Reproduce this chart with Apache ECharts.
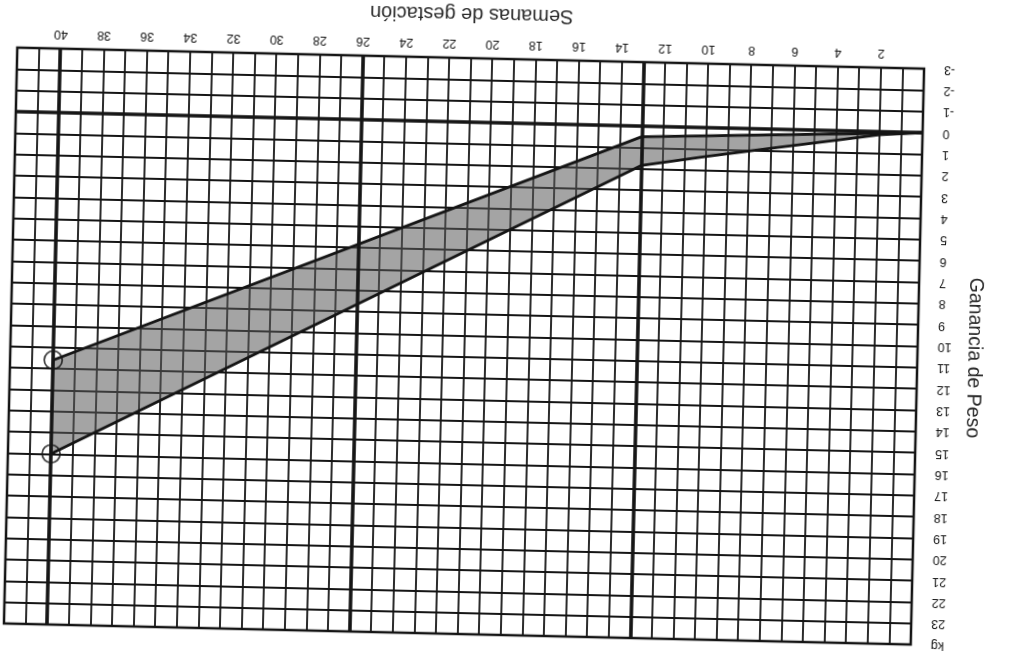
<!DOCTYPE html>
<html>
<head>
<meta charset="utf-8">
<script src="https://cdn.jsdelivr.net/npm/echarts@6/dist/echarts.min.js"></script>
<style>
  html, body { margin: 0; background: #fff; }
  /* the scan is upside down and a little tilted */
  #main { width: 1009px; height: 651px; transform: rotate(1.33deg); }
</style>
</head>
<body>
<div id="main"></div>
<script>
// lower limit of the band (weeks, kg)
const lowWeeks = [0, 13, 40]
const lowGain = [0, 0.5, 11.6]
// upper limit of the band
const highWeeks = [0, 2, 4, 7, 10, 13, 40]
const highGain = [0, 0.15, 0.45, 0.9, 1.35, 1.85, 16]
// thick reference lines
const majorWeeks = [13, 26, 40]
const majorGain = [0]
// tick labels
const weekLabels = [2, 4, 6, 8, 10, 12, 14, 16, 18, 20, 22, 24, 26, 28, 30, 32, 34, 36, 38, 40]
const gainLabels = [-3, -2, -1, 0, 1, 2, 3, 4, 5, 6, 7, 8, 9, 10, 11, 12, 13, 14, 15, 16, 17, 18, 19, 20, 21, 22, 23]
const unitLabel = 'kg'

const font = "'Liberation Sans', Arial, sans-serif"
const ink = '#151515'

function pairs(xs, ys) {
  return xs.map((x, i) => [x, ys[i]])
}

function setChartOption(myChart) {
  const lowPts = pairs(lowWeeks, lowGain)
  const highPts = pairs(highWeeks, highGain)
  const option = {
    backgroundColor: '#fff',
    animation: false,
    grid: {
      left: 11,
      right: 91,
      top: 51,
      bottom: 16,
      show: true,
      borderColor: ink,
      borderWidth: 2.5
    },
    xAxis: {
      type: 'value',
      position: 'top',
      inverse: true,
      min: 0,
      max: 42,
      interval: 1,
      name: 'Semanas de gestación',
      nameLocation: 'middle',
      nameGap: 34,
      nameRotate: 180,
      nameTextStyle: { fontFamily: font, fontSize: 20, color: '#2a2a2a' },
      axisLine: { show: false },
      axisTick: { show: false },
      axisLabel: {
        rotate: 180,
        margin: 8,
        fontFamily: font,
        fontSize: 12.5,
        color: ink,
        formatter: v => weekLabels.includes(v) ? String(v) : ''
      },
      splitLine: { lineStyle: { color: ink, width: 1.8 } }
    },
    yAxis: {
      type: 'value',
      position: 'right',
      inverse: true,
      min: -3,
      max: 24,
      interval: 1,
      name: 'Ganancia de Peso',
      nameLocation: 'middle',
      nameGap: 46,
      nameRotate: -90,
      nameTextStyle: { fontFamily: font, fontSize: 19.5, color: '#2a2a2a' },
      axisLine: { show: false },
      axisTick: { show: false },
      axisLabel: {
        rotate: 180,
        margin: 20,
        padding: [0, 0, 12, 0],
        fontFamily: font,
        fontSize: 12.5,
        color: ink,
        formatter: v => v === 24 ? unitLabel : (gainLabels.includes(v) ? String(v) : '')
      },
      splitLine: { lineStyle: { color: ink, width: 1.8 } }
    },
    series: [
      {
        type: 'custom',
        name: 'banda',
        silent: true,
        z: 1,
        data: [0],
        renderItem: (params, api) => {
          const points = lowPts.concat(highPts.slice().reverse()).map(p => api.coord(p))
          return {
            type: 'polygon',
            shape: { points: points },
            style: { fill: 'rgba(90,90,90,0.55)' }
          }
        }
      },
      {
        type: 'line',
        name: 'minimo',
        data: lowPts,
        symbol: 'none',
        z: 3,
        lineStyle: { color: ink, width: 2.8 },
        markLine: {
          silent: true,
          symbol: ['none', 'none'],
          label: { show: false },
          lineStyle: { color: ink, width: 3.6, type: 'solid' },
          data: majorWeeks.map(w => ({ xAxis: w })).concat(majorGain.map(g => ({ yAxis: g })))
        }
      },
      {
        type: 'line',
        name: 'maximo',
        data: highPts,
        symbol: 'none',
        z: 3,
        lineStyle: { color: ink, width: 2.8 }
      },
      {
        type: 'scatter',
        name: 'final',
        data: [lowPts[lowPts.length - 1], highPts[highPts.length - 1]],
        symbol: 'circle',
        symbolSize: 18,
        z: 4,
        itemStyle: { color: 'rgba(0,0,0,0)', borderColor: ink, borderWidth: 1.8 }
      }
    ]
  }
  myChart.setOption(option)
}

const myChart = echarts.init(document.getElementById('main'))
setChartOption(myChart)
</script>
</body>
</html>
